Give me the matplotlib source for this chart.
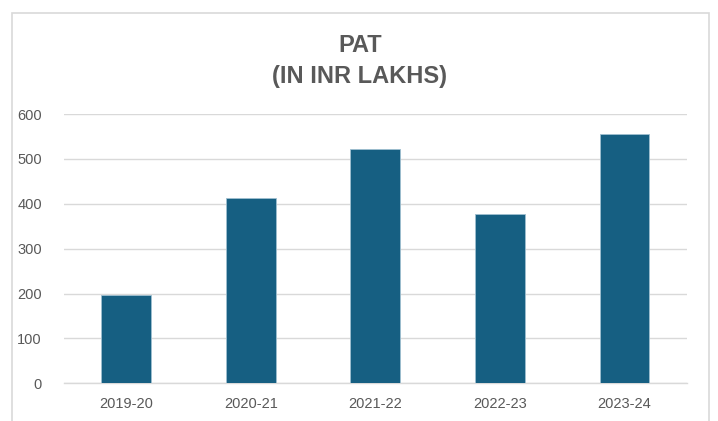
import matplotlib
matplotlib.use("Agg")
import matplotlib.pyplot as plt
from matplotlib.patches import Rectangle

categories = ["2019-20", "2020-21", "2021-22", "2022-23", "2023-24"]
pat_values = [197, 413, 522, 377, 556]
yticks = [0, 100, 200, 300, 400, 500, 600]

W, H = 718, 421
fig = plt.figure(figsize=(W / 100, H / 100), dpi=100)
plt.rcParams['font.family'] = ['Liberation Sans', 'DejaVu Sans']

ax = fig.add_axes([64 / W, 1 - 383.3 / H, (686.7 - 64) / W, (383.3 - 114) / H])
x = list(range(len(categories)))
ax.bar(x, pat_values, width=0.4, color="#165f82", edgecolor="#9fbfd0", linewidth=0.6, zorder=3)
ax.set_xlim(-0.5, len(categories) - 0.5)
ax.set_ylim(0, 600)
ax.set_yticks(yticks)
ax.set_xticks(x)
ax.set_xticklabels(categories)
ax.grid(axis="y", color="#d9d9d9", linewidth=1.0, zorder=0)
for s in ["top", "right", "left"]:
    ax.spines[s].set_visible(False)
ax.spines["bottom"].set_color("#d9d9d9")
ax.spines["bottom"].set_linewidth(1.0)
ax.tick_params(axis="both", length=0, labelsize=10.5, labelcolor="#595959")
ax.tick_params(axis="y", pad=16)
ax.tick_params(axis="x", pad=10)

fig.text(360 / W, 1 - 45.5 / H, "PAT", ha="center", va="center", fontsize=17,
         fontweight="bold", color="#595959")
fig.text(360 / W, 1 - 76 / H, "(IN INR LAKHS)", ha="center", va="center", fontsize=17,
         fontweight="bold", color="#595959")

border = Rectangle((12 / W, -0.05), (709 - 12) / W, (1 - 13 / H) + 0.05,
                   transform=fig.transFigure, fill=False, edgecolor="#d9d9d9",
                   linewidth=1.2, clip_on=False)
fig.patches.append(border)

fig.savefig("out.png", dpi=100)
